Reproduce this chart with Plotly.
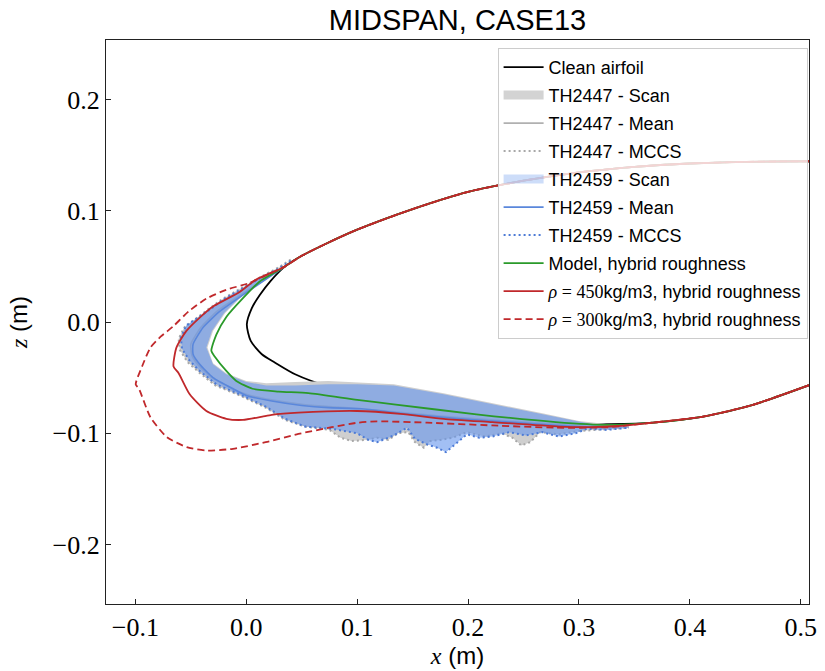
import plotly.graph_objects as go

# ---------------- data (metres) ----------------
# Clean airfoil: upper surface (trailing side -> nose) then lower surface (nose -> trailing side)
CLEAN_X = [0.5074, 0.45, 0.40, 0.35, 0.30, 0.25, 0.20, 0.15, 0.10, 0.07, 0.05, 0.035, 0.022, 0.012, 0.005,
           0.0005, 0.004, 0.014, 0.026, 0.044, 0.074, 0.10, 0.118, 0.163, 0.222, 0.281, 0.329, 0.367, 0.412,
           0.456, 0.5074]
CLEAN_Z = [0.1445, 0.1440, 0.1425, 0.1395, 0.1345, 0.127, 0.117, 0.1015, 0.083, 0.0695, 0.0595, 0.050, 0.037,
           0.024, 0.0125, -0.002, -0.017, -0.029, -0.0366, -0.047, -0.058, -0.064, -0.068, -0.077, -0.086,
           -0.0915, -0.0918, -0.0904, -0.085, -0.0747, -0.0568]

# TH2447 (grey) scan envelope: MCCS = outer envelope, inner edge of the scan cloud
TH2447_MCCS_X = [0.040, 0.029, 0.012, -0.006, -0.021, -0.035, -0.047, -0.056, -0.061, -0.060, -0.053, -0.043,
                 -0.028, -0.006, 0.0175, 0.035, 0.053, 0.075, 0.085, 0.095, 0.108, 0.118, 0.128, 0.137, 0.146,
                 0.152, 0.160, 0.166, 0.175, 0.186, 0.199, 0.215, 0.230, 0.240, 0.248, 0.256, 0.265, 0.282,
                 0.300, 0.325, 0.345]
TH2447_MCCS_Z = [0.056, 0.049, 0.040, 0.030, 0.021, 0.011, 0.002, -0.005, -0.015, -0.025, -0.036, -0.045,
                 -0.057, -0.066, -0.077, -0.088, -0.094, -0.097, -0.104, -0.107, -0.106, -0.104, -0.106,
                 -0.100, -0.099, -0.108, -0.113, -0.107, -0.106, -0.104, -0.099, -0.103, -0.100, -0.104,
                 -0.111, -0.108, -0.099, -0.101, -0.098, -0.096, -0.095]
TH2447_INNER_X = [0.345, 0.300, 0.267, 0.222, 0.178, 0.133, 0.100, 0.074, 0.044, 0.018, 0.0, -0.018, -0.030,
                  -0.035, -0.030, -0.019, -0.007, 0.006, 0.019, 0.035, 0.040]
TH2447_INNER_Z = [-0.094, -0.089, -0.082, -0.073, -0.064, -0.056, -0.054, -0.053, -0.054, -0.055, -0.053,
                  -0.046, -0.037, -0.023, -0.008, 0.008, 0.020, 0.031, 0.041, 0.052, 0.056]
TH2447_MEAN_X = [0.035, 0.020, -0.004, -0.026, -0.041, -0.050, -0.049, -0.043, -0.031, -0.013, 0.0, 0.023,
                 0.050, 0.074, 0.104, 0.148, 0.193, 0.237, 0.282, 0.311, 0.335]
TH2447_MEAN_Z = [0.050, 0.041, 0.025, 0.010, -0.005, -0.020, -0.030, -0.039, -0.050, -0.060, -0.065, -0.070,
                 -0.074, -0.076, -0.078, -0.082, -0.086, -0.089, -0.092, -0.094, -0.094]

# TH2459 (blue) scan envelope
TH2459_MCCS_X = [0.040, 0.029, 0.012, -0.006, -0.021, -0.033, -0.045, -0.054, -0.059, -0.058, -0.051, -0.042,
                 -0.027, -0.006, 0.0175, 0.035, 0.053, 0.077, 0.100, 0.110, 0.118, 0.133, 0.145, 0.152, 0.163,
                 0.172, 0.180, 0.187, 0.199, 0.210, 0.222, 0.237, 0.252, 0.267, 0.282, 0.297, 0.307, 0.325,
                 0.345]
TH2459_MCCS_Z = [0.055, 0.048, 0.039, 0.029, 0.020, 0.011, 0.003, -0.003, -0.014, -0.024, -0.035, -0.044,
                 -0.056, -0.065, -0.076, -0.087, -0.094, -0.096, -0.100, -0.106, -0.108, -0.102, -0.095,
                 -0.105, -0.110, -0.113, -0.117, -0.111, -0.101, -0.104, -0.103, -0.099, -0.102, -0.099,
                 -0.103, -0.100, -0.096, -0.097, -0.095]
TH2459_INNER_X = [0.345, 0.320, 0.302, 0.267, 0.222, 0.178, 0.133, 0.100, 0.074, 0.044, 0.018, 0.0, -0.018,
                  -0.030, -0.036, -0.031, -0.020, -0.008, 0.005, 0.018, 0.035, 0.040]
TH2459_INNER_Z = [-0.094, -0.093, -0.090, -0.083, -0.074, -0.065, -0.057, -0.056, -0.056, -0.057, -0.057,
                  -0.054, -0.047, -0.038, -0.023, -0.008, 0.008, 0.020, 0.031, 0.041, 0.052, 0.055]
TH2459_MEAN_X = [0.035, 0.020, -0.003, -0.024, -0.039, -0.048, -0.048, -0.042, -0.030, -0.012, 0.0, 0.023,
                 0.050, 0.074, 0.104, 0.148, 0.193, 0.237, 0.282, 0.311, 0.335]
TH2459_MEAN_Z = [0.050, 0.040, 0.0244, 0.0095, -0.005, -0.020, -0.029, -0.038, -0.050, -0.060, -0.066, -0.071,
                 -0.075, -0.077, -0.078, -0.083, -0.087, -0.090, -0.093, -0.0945, -0.094]

# Model, hybrid roughness (green)
MODEL_X = [0.5074, 0.45, 0.40, 0.35, 0.30, 0.25, 0.20, 0.15, 0.10, 0.07, 0.05, 0.035, 0.023, 0.0116, -0.003,
           -0.018, -0.027, -0.0315, -0.0285, -0.018, -0.009, 0.0056, 0.029, 0.056, 0.10, 0.133, 0.2075, 0.279,
           0.326, 0.367, 0.412, 0.456, 0.5074]
MODEL_Z = [0.1445, 0.1440, 0.1425, 0.1395, 0.1345, 0.127, 0.117, 0.1015, 0.083, 0.0695, 0.0595, 0.050, 0.043,
           0.036, 0.0214, 0.0045, -0.0113, -0.026, -0.031, -0.044, -0.053, -0.060, -0.0625, -0.064, -0.070,
           -0.074, -0.083, -0.090, -0.0925, -0.0904, -0.085, -0.0747, -0.0568]

# rho = 450 kg/m3, hybrid roughness (red solid)
RHO450_X = [0.5074, 0.45, 0.40, 0.35, 0.30, 0.25, 0.20, 0.15, 0.10, 0.07, 0.05, 0.035, 0.029, 0.0086, -0.006,
            -0.030, -0.042, -0.054, -0.063, -0.0656, -0.061, -0.051, -0.036, -0.018, -0.003, 0.0145, 0.023,
            0.047, 0.10, 0.139, 0.178, 0.222, 0.282, 0.311, 0.335, 0.367, 0.412, 0.456, 0.5074]
RHO450_Z = [0.1445, 0.1440, 0.1425, 0.1395, 0.1345, 0.127, 0.117, 0.1015, 0.083, 0.0695, 0.0595, 0.050, 0.047,
            0.038, 0.027, 0.014, 0.004, -0.008, -0.023, -0.040, -0.046, -0.065, -0.080, -0.087, -0.088,
            -0.085, -0.0835, -0.0815, -0.080, -0.0825, -0.087, -0.090, -0.094, -0.0945, -0.0935, -0.0904,
            -0.085, -0.0747, -0.0568]

# rho = 300 kg/m3, hybrid roughness (red dashed)
RHO300_X = [0.5074, 0.45, 0.40, 0.35, 0.30, 0.25, 0.20, 0.15, 0.10, 0.07, 0.05, 0.035, 0.020, 0.0027, -0.018,
            -0.036, -0.052, -0.066, -0.077, -0.0864, -0.094, -0.0997, -0.0968, -0.0864, -0.0715, -0.0537,
            -0.0359, -0.012, 0.0175, 0.047, 0.077, 0.1006, 0.118, 0.163, 0.222, 0.279, 0.326, 0.367, 0.412,
            0.456, 0.5074]
RHO300_Z = [0.1445, 0.1440, 0.1425, 0.1395, 0.1345, 0.127, 0.117, 0.1015, 0.083, 0.0695, 0.0595, 0.050, 0.043,
            0.035, 0.029, 0.021, 0.0095, -0.004, -0.013, -0.023, -0.040, -0.056, -0.060, -0.0857, -0.1036,
            -0.1125, -0.1155, -0.114, -0.108, -0.1006, -0.0946, -0.0905, -0.0893, -0.0905, -0.093, -0.095,
            -0.0946, -0.0904, -0.085, -0.0747, -0.0568]

X_TICKS = [-0.1, 0.0, 0.1, 0.2, 0.3, 0.4, 0.5]
Z_TICKS = [-0.2, -0.1, 0.0, 0.1, 0.2]
X_RANGE = [-0.1265, 0.5074]
Z_RANGE = [-0.2535, 0.2535]

# ---------------- styles ----------------
BLACK = "#000000"
GREY_FILL = "#cfcfcf"
GREY_LEG = "#d3d3d3"
GREY_MEAN = "#b0b0b0"
GREY_DOT = "#a8a8a8"
BLUE_FILL = "rgba(100,149,237,0.6)"
BLUE_LEG = "rgba(100,149,237,0.32)"
BLUE_MEAN = "#5a87db"
BLUE_DOT = "#4d7bd6"
GREEN = "#2a9a2a"
RED = "#c0282b"
SERIF = "Liberation Serif"
SANS = "Liberation Sans"

fig = go.Figure()
_grp = [0]


def add(**kw):
    if kw.get("showlegend", True):
        _grp[0] += 1
        kw["legendgroup"] = "g%d" % _grp[0]
    fig.add_trace(go.Scatter(**kw))


add(x=CLEAN_X, y=CLEAN_Z, mode="lines", name="Clean airfoil",
    line=dict(color=BLACK, width=1.8, shape="spline", smoothing=0.7))

# TH2447
add(x=TH2447_MCCS_X + TH2447_INNER_X, y=TH2447_MCCS_Z + TH2447_INNER_Z,
    mode="lines", fill="toself", fillcolor=GREY_FILL, line=dict(width=0),
    showlegend=False, hoverinfo="skip")
add(x=[None], y=[None], mode="lines", name="TH2447 - Scan",
    line=dict(color=GREY_LEG, width=9))
add(x=TH2447_MEAN_X, y=TH2447_MEAN_Z, mode="lines", name="TH2447 - Mean",
    line=dict(color=GREY_MEAN, width=1.6, shape="spline", smoothing=0.5))
add(x=TH2447_MCCS_X, y=TH2447_MCCS_Z, mode="lines", name="TH2447 - MCCS",
    line=dict(color=GREY_DOT, width=2, dash="2px,3px"))

# TH2459
add(x=TH2459_MCCS_X + TH2459_INNER_X, y=TH2459_MCCS_Z + TH2459_INNER_Z,
    mode="lines", fill="toself", fillcolor=BLUE_FILL, line=dict(width=0),
    showlegend=False, hoverinfo="skip")
add(x=[None], y=[None], mode="lines", name="TH2459 - Scan",
    line=dict(color=BLUE_LEG, width=9))
add(x=TH2459_MEAN_X, y=TH2459_MEAN_Z, mode="lines", name="TH2459 - Mean",
    line=dict(color=BLUE_MEAN, width=1.6, shape="spline", smoothing=0.5))
add(x=TH2459_MCCS_X, y=TH2459_MCCS_Z, mode="lines", name="TH2459 - MCCS",
    line=dict(color=BLUE_DOT, width=2, dash="2px,3px"))

add(x=MODEL_X, y=MODEL_Z, mode="lines", name="Model, hybrid roughness",
    line=dict(color=GREEN, width=1.8, shape="spline", smoothing=0.6))

rho = '<span style="font-family:%s"><i>ρ</i> = %s</span>kg/m3, hybrid roughness'
add(x=RHO450_X, y=RHO450_Z, mode="lines", name=rho % (SERIF, "450"),
    line=dict(color=RED, width=1.8, shape="spline", smoothing=0.6))
add(x=RHO300_X, y=RHO300_Z, mode="lines", name=rho % (SERIF, "300"),
    line=dict(color=RED, width=1.8, dash="7px,4px", shape="spline", smoothing=0.6))

axis_common = dict(showline=True, mirror=True, linecolor="#222222", linewidth=1.2,
                   ticks="inside", ticklen=5, tickwidth=1, tickcolor="#222222",
                   showgrid=False, zeroline=False, tickformat=".1f",
                   tickfont=dict(family=SERIF, size=26, color="black"))

fig.update_layout(
    width=825, height=671,
    margin=dict(l=106, r=8, t=40, b=62),
    plot_bgcolor="white", paper_bgcolor="white",
    title=dict(text="MIDSPAN, CASE13", x=0.5, xref="paper", xanchor="center",
               y=1 - 20 / 671, yanchor="middle", yref="container",
               font=dict(family=SANS, size=29, color="black")),
    xaxis=dict(range=X_RANGE, tickvals=X_TICKS, **axis_common,
               title=dict(text='<span style="font-family:%s"><i>x</i></span> (m)' % SERIF,
                          font=dict(family=SANS, size=24, color="black"), standoff=4)),
    yaxis=dict(range=Z_RANGE, tickvals=Z_TICKS, **axis_common,
               title=dict(text='<span style="font-family:%s"><i>z</i></span> (m)' % SERIF,
                          font=dict(family=SANS, size=24, color="black"), standoff=18)),
    legend=dict(x=0.998, y=0.986, xanchor="right", yanchor="top",
                bgcolor="rgba(255,255,255,0.8)", bordercolor="#cccccc", borderwidth=1,
                font=dict(family=SANS, size=18, color="black"), tracegroupgap=1.6,
                traceorder="grouped", itemwidth=40),
    showlegend=True,
)

fig.write_html("out.html")
